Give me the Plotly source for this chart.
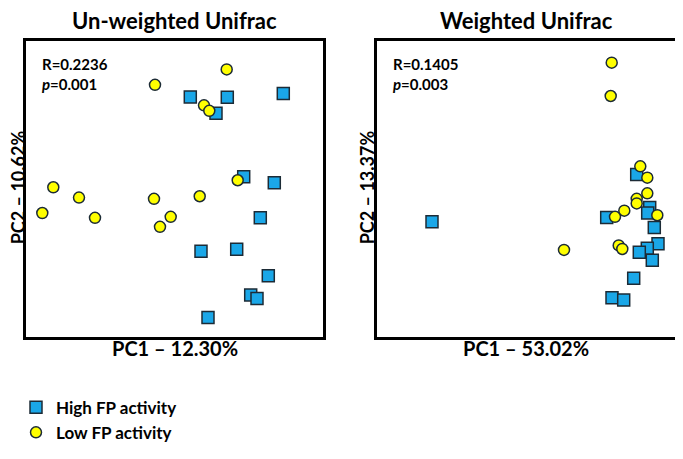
import plotly.graph_objects as go

# Un-weighted Unifrac (PC1 vs PC2, arbitrary units)
uw_high_x = [164.3, 201.3, 257.3, 190.0, 217.7, 248.3, 234.3, 175.0, 210.7, 242.3, 224.7, 231.0, 182.0]
uw_high_y = [248.7, 248.3, 252.3, 231.7, 166.0, 159.7, 123.3, 88.7, 90.7, 63.3, 43.3, 39.7, 20.0]
uw_low_x = [200.7, 129.0, 178.0, 183.3, 211.7, 27.3, 53.0, 128.0, 173.7, 16.3, 69.0, 144.7, 134.0]
uw_low_y = [277.3, 261.3, 240.0, 234.3, 162.3, 155.0, 144.3, 143.0, 145.7, 128.3, 123.3, 124.3, 114.0]

# Weighted Unifrac
w_high_x = [259.7, 55.0, 229.7, 272.7, 270.7, 277.3, 281.0, 270.3, 262.3, 275.3, 256.7, 235.0, 246.7]
w_high_y = [168.3, 119.3, 123.7, 134.0, 128.3, 113.3, 96.3, 91.7, 87.7, 79.3, 60.7, 40.3, 38.0]
w_low_x = [234.7, 233.7, 263.3, 270.3, 270.3, 259.7, 259.7, 247.3, 238.0, 280.3, 187.0, 241.7, 245.3]
w_low_y = [284.3, 249.7, 176.7, 165.0, 148.7, 143.0, 138.3, 130.7, 124.3, 126.0, 90.0, 94.7, 91.0]

stats = [("R=0.2236", "0.001"), ("R=0.1405", "0.003")]
titles = ["Un-weighted Unifrac", "Weighted Unifrac"]
x_titles = ["PC1 \u2013 12.30%", "PC1 \u2013 53.02%"]
y_titles = ["PC2 \u2013 10.62%", "PC2 \u2013 13.37%"]

FONT = "Lato"
BLUE = "#1aa7e8"
YELLOW = "#ffff00"
EDGE = "#1c2b36"

# the page body has an 8px margin, so the figure is a bit smaller and everything
# is placed from window pixel positions minus that offset
OFF = 8
W, H = 670, 443

def fx(px):
    return (px - OFF) / W

def fy(py):
    return 1 - (py - OFF) / H

# panel boxes in window pixels (left, top, right, bottom)
boxes = [(26, 42, 323, 349), (377, 42, 675, 349)]

fig = go.Figure()

def sq(name, x, y, xa, ya, show):
    return go.Scatter(x=x, y=y, mode="markers", name=name, xaxis=xa, yaxis=ya, showlegend=show,
                      marker=dict(symbol="square", size=12, color=BLUE, line=dict(color=EDGE, width=1.5)))

def circ(name, x, y, xa, ya, show):
    return go.Scatter(x=x, y=y, mode="markers", name=name, xaxis=xa, yaxis=ya, showlegend=show,
                      marker=dict(symbol="circle", size=11, color=YELLOW, line=dict(color=EDGE, width=1.5)))

fig.add_trace(sq("High FP activity", uw_high_x, uw_high_y, "x", "y", True))
fig.add_trace(circ("Low FP activity", uw_low_x, uw_low_y, "x", "y", True))
fig.add_trace(sq("High FP activity", w_high_x, w_high_y, "x2", "y2", False))
fig.add_trace(circ("Low FP activity", w_low_x, w_low_y, "x2", "y2", False))

bold = lambda s: dict(size=s, family=FONT, color="black", weight="bold")
annotations = []
ycent = [18, 367]
for i, (l, t, r, b) in enumerate(boxes):
    cx = fx((l + r) / 2)
    annotations.append(dict(text=titles[i], x=cx, y=fy(21), xref="paper", yref="paper",
                            xanchor="center", yanchor="middle", showarrow=False, font=bold(22)))
    annotations.append(dict(text=x_titles[i], x=cx, y=fy(361), xref="paper", yref="paper",
                            xanchor="center", yanchor="middle", showarrow=False, font=bold(20)))
    annotations.append(dict(text=y_titles[i], x=fx(ycent[i]), y=fy(194), xref="paper", yref="paper",
                            xanchor="center", yanchor="middle", textangle=-90, showarrow=False,
                            font=bold(18)))
    annotations.append(dict(text="%s<br><i>p</i>=%s" % stats[i], x=fx(l + 14), y=fy(55),
                            xref="paper", yref="paper", xanchor="left", yanchor="top", align="left",
                            showarrow=False, font=bold(15)))

ax = dict(showgrid=False, zeroline=False, showticklabels=False, ticks="", showline=True,
          linecolor="black", linewidth=3, mirror=True)

fig.update_layout(
    width=W, height=H,
    margin=dict(l=0, r=0, t=0, b=0),
    paper_bgcolor="white", plot_bgcolor="white",
    xaxis=dict(ax, domain=[fx(26), fx(323)], range=[0, 297]),
    yaxis=dict(ax, domain=[fy(349), fy(42)], range=[0, 307]),
    xaxis2=dict(ax, domain=[fx(377), fx(675)], range=[0, 298]),
    yaxis2=dict(ax, domain=[fy(349), fy(42)], range=[0, 307], anchor="x2"),
    annotations=annotations,
    legend=dict(x=fx(16), y=fy(404), xanchor="left", yanchor="top", bgcolor="rgba(0,0,0,0)",
                font=bold(17), tracegroupgap=0),
    showlegend=True,
)

fig.write_html("out.html")
